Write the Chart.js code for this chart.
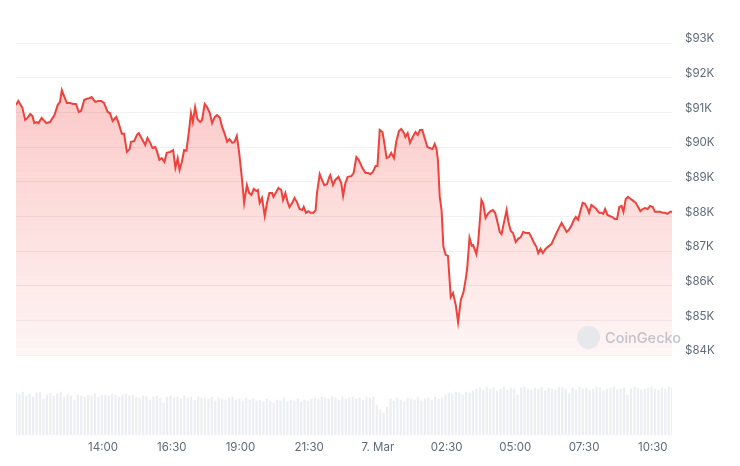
<!DOCTYPE html>
<html>
<head>
<meta charset="utf-8">
<script src="https://cdn.jsdelivr.net/npm/chart.js@4.4.1/dist/chart.umd.min.js"></script>
<style>
  html, body { margin: 0; padding: 0; background: #fff; }
  #wrap { position: relative; width: 740px; height: 466px; font-family: Inter, "Noto Sans", sans-serif; }
  #price-chart { position: absolute; left: 0; top: 0; }
  #vol-chart { position: absolute; left: 0; top: 370px; }
  #mark { position: absolute; left: 577px; top: 326px; display: flex; align-items: center; color: #c0c4ca; font-size: 14.5px; font-weight: 500; }
  #mark .logo { width: 23px; height: 23px; border-radius: 50%; background: #e6e8eb; margin-right: 5px; }
</style>
</head>
<body>
<div id="wrap">
  <canvas id="price-chart" width="740" height="370"></canvas>
  <canvas id="vol-chart" width="740" height="96"></canvas>
  <div id="mark"><div class="logo"></div><span>CoinGecko</span></div>
</div>
<script>
// minutes since 6 Mar 10:50
const priceMinutes = [
  0,5,14,20,25,31,36,40,45,49,56,66,74,84,91,96,100,105,111,118,125,131,137,142,149,155,160,165,173,180,
  186,192,200,205,211,219,224,231,236,242,248,251,258,264,268,275,282,287,293,298,304,307,313,318,324,329,
  337,343,348,353,357,362,367,372,377,382,386,391,396,402,406,412,417,423,428,434,439,445,450,455,461,466,
  472,477,482,487,493,498,504,509,514,519,525,528,532,537,543,548,553,559,562,568,573,579,583,588,593,597,
  603,608,614,619,625,628,633,638,643,649,654,657,663,668,673,679,684,
  686,692,697,704,710,714,719,724,732,737,743,748,756,763,768,774,779,785,789,794,800,803,809,814,819,825,
  830,836,841,847,850,855,860,865,872,877,882,887,892,898,903,909,914,918,921,
  925,929,933,938,943,949,954,960,965,971,977,982,985,990,995,998,1005,1009,1016,1020,1025,1030,1036,1041,
  1046,1051,1056,1060,1065,1071,1075,1080,1085,1091,1096,1102,1107,1113,1120,1125,1131,1136,1140,1145,1150,
  1156,1161,1169,1175,1180,1185,1191,1196,1202,1207,1213,1218,1222,1227,1231,1237,1242,1248,1251,1256,1262,
  1267,1273,1278,1282,1286,1291,1296,1302,1307,1312,1317,1322,1326,1331,1336,1342,1348,1353,1358,1363,1368,
  1373,1379,1384,1390,1395,1401,1406,1412,1417,1422,1428,1432
];
const prices = [
  91210,91330,91130,90780,90840,90950,90890,90690,90720,90690,90840,90690,90720,90920,91210,91300,91640,91470,91270,91270,91240,91240,91010,91040,91360,91390,91410,91440,91300,91330,
  91330,91270,91010,90980,90750,90870,90690,90380,90380,89860,89940,90150,90170,90350,90400,90230,90060,90260,90120,89970,90000,89910,89630,89680,89570,89830,
  89860,89910,89400,89680,89340,89570,89910,89890,90400,90980,90720,91150,90810,90720,90780,91240,91150,90980,90690,90870,90920,90840,90580,90400,90150,90230,
  90120,90150,90320,89860,89110,88390,88900,88670,88620,88790,88730,88760,88390,88530,88010,88390,88670,88670,88560,88700,88820,88760,88470,88670,88410,88270,
  88390,88530,88390,88210,88180,88270,88100,88150,88100,88100,88180,88670,89220,89050,88900,88930,89140,
  89190,88900,89050,89140,88960,88590,88960,89140,89160,89250,89710,89630,89400,89250,89250,89220,89280,89450,89450,90490,90430,90200,89680,89710,89830,89680,
  90150,90460,90520,90400,90290,90400,90120,90260,90430,90350,90490,90490,90260,90000,89970,89940,90090,89940,89630,
  88560,88180,87120,86890,86860,85670,85790,85440,84950,85590,85820,86220,86510,87380,87150,87170,86910,87260,88470,88360,87950,88070,88150,88180,
  88100,87840,87550,87490,87810,88180,87840,87580,87520,87260,87350,87400,87550,87520,87520,87400,87230,87120,86940,87060,86940,
  87060,87120,87200,87380,87520,87660,87810,87690,87550,87610,87750,87900,87980,87900,88100,88390,88360,88210,88100,88330,88270,
  88210,88100,88100,88070,88210,88040,88010,87980,87920,87920,88270,88300,88130,88500,88560,88500,88440,88390,88270,88150,88210,
  88240,88210,88300,88270,88130,88130,88130,88100,88100,88070,88130,88130
];

// volume bars, one every 7.5 minutes (relative units)
const volumes = [
  84,80,86,78,82,76,84,86,72,80,84,78,82,86,
  76,80,78,70,80,78,76,80,78,82,76,80,
  80,78,82,80,76,80,82,78,80,
  76,74,78,76,70,76,78,74,64,76,78,74,76,72,78,74,76,70,76,74,
  74,72,76,68,74,72,70,74,76,70,72,68,74,70,72,
  68,70,66,72,68,64,70,68,74,66,70,68,72,66,70,68,72,
  74,72,76,74,72,76,74,70,76,72,74,76,72,74,70,76,74,
  76,60,50,44,56,
  72,68,74,70,66,74,72,70,76,68,72,74,70,76,72,74,
  80,84,82,86,84,80,86,84,88,
  92,94,90,96,92,94,88,92,96,90,94,92,80,94,96,92,90,94,92,96,88,94,92,90,96,94,92,82,94,90,
  96,92,94,90,92,96,94,88,92,94,96,90,92,94,80,92,96,94,90,92,94,96,92,90,94,92,96,94
];
const volStep = 7.5;

const tickMinutes = [190, 340, 490, 640, 790, 940, 1090, 1240, 1390];
const tickLabels = ['14:00', '16:30', '19:00', '21:30', '7. Mar', '02:30', '05:00', '07:30', '10:30'];
const priceTicks = [84000, 85000, 86000, 87000, 88000, 89000, 90000, 91000, 92000, 93000];

const lineRed = '#f0413b';
const labelGrey = '#5f6b7a';
const endMinute = 1432;

const pricePoints = priceMinutes.map((m, i) => ({ x: m, y: prices[i] }));
const volPoints = volumes.map((v, i) => ({ x: i * volStep, y: v }));

const priceChart = new Chart(document.querySelector('#price-chart'), {
  type: 'line',
  data: {
    datasets: [{
      data: pricePoints,
      borderColor: lineRed,
      borderWidth: 2,
      pointRadius: 0,
      tension: 0,
      fill: 'start',
      backgroundColor: function (ctx) {
        const area = ctx.chart.chartArea;
        if (!area) return 'rgba(240,65,59,0.2)';
        const g = ctx.chart.ctx.createLinearGradient(0, area.top, 0, area.bottom);
        g.addColorStop(0, 'rgba(240,65,59,0.32)');
        g.addColorStop(1, 'rgba(240,65,59,0.05)');
        return g;
      }
    }]
  },
  options: {
    responsive: false,
    animation: false,
    layout: { padding: { left: 16, top: 43, right: 0, bottom: 15 } },
    plugins: { legend: { display: false }, tooltip: { enabled: false } },
    scales: {
      x: { type: 'linear', min: 0, max: endMinute, display: false },
      y: {
        position: 'right',
        min: 84000,
        max: 93000,
        afterBuildTicks: function (scale) { scale.ticks = priceTicks.map(v => ({ value: v })); },
        afterFit: function (scale) { scale.width = 68; },
        border: { display: false },
        // transparent tick marks push the labels right without adding vertical padding
        grid: { color: '#f0f1f3', drawTicks: true, tickLength: 11, tickColor: 'rgba(0,0,0,0)' },
        ticks: {
          padding: 2,
          labelOffset: -4,
          color: labelGrey,
          font: { family: 'Inter', size: 11.5 },
          callback: function (value) { return '$' + (value / 1000) + 'K'; }
        }
      }
    }
  }
});

const volChart = new Chart(document.querySelector('#vol-chart'), {
  type: 'bar',
  data: {
    datasets: [{
      data: volPoints,
      backgroundColor: '#eceef2',
      barThickness: 1.6,
      borderWidth: 0
    }]
  },
  options: {
    responsive: false,
    animation: false,
    layout: { padding: { left: 16, top: 15, right: 68, bottom: 0 } },
    plugins: { legend: { display: false }, tooltip: { enabled: false } },
    scales: {
      x: {
        type: 'linear',
        min: 0,
        max: endMinute,
        offset: false,
        afterBuildTicks: function (scale) { scale.ticks = tickMinutes.map(v => ({ value: v })); },
        afterFit: function (scale) { scale.height = 31; },
        border: { display: false },
        grid: { display: false, drawTicks: false, offset: false },
        ticks: {
          padding: 6,
          maxRotation: 0,
          autoSkip: false,
          color: labelGrey,
          font: { family: 'Inter', size: 11.5 },
          callback: function (value) {
            const k = tickMinutes.indexOf(value);
            return k >= 0 ? tickLabels[k] : '';
          }
        }
      },
      y: { display: false, min: 0, max: 100 }
    }
  }
});
</script>
</body>
</html>
